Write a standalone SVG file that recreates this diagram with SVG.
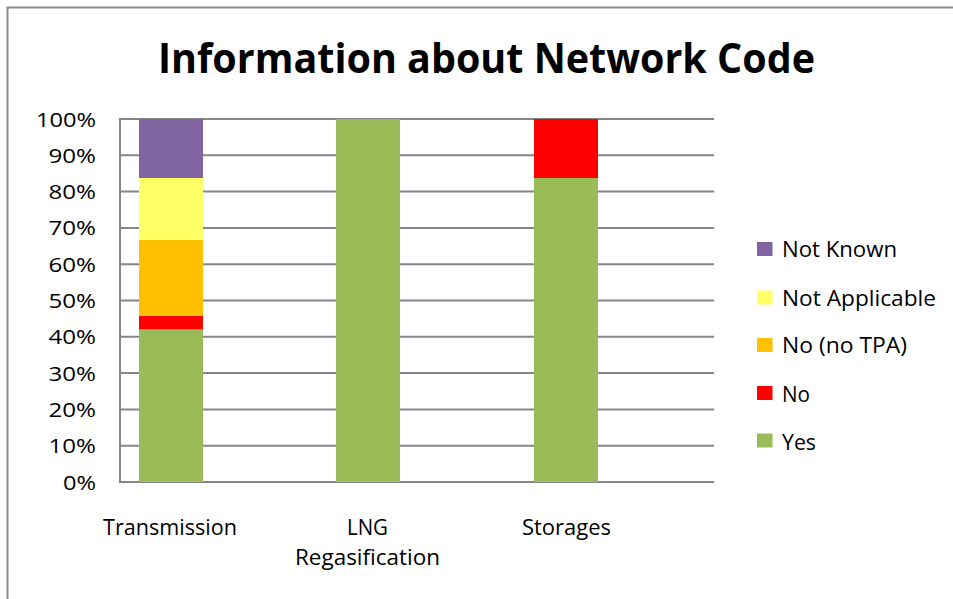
<svg xmlns="http://www.w3.org/2000/svg" width="953" height="599" viewBox="0 0 953 599">
<style>
text{font-family:"Open Sans","Liberation Sans",sans-serif;fill:#000}
.ax{font-size:20.5px;text-anchor:end}
.lg{font-size:21px}
.cat{font-size:21px}
.grid{stroke:#868686;stroke-width:2;fill:none}
.yes{fill:#9BBB59}.no{fill:#FF0000}.ntpa{fill:#FFC000}.na{fill:#FFFF66}.nk{fill:#8064A2}
</style>
<rect width="953" height="599" fill="#fff"/>
<path d="M7.5 599 V7.5 H953" stroke="#8c8c8c" stroke-width="2" fill="none"/>
<text x="158" y="73" font-size="42" font-weight="bold" textLength="657" lengthAdjust="spacingAndGlyphs">Information about Network Code</text>
<g id="grid">
<path class="grid" d="M120 119H714M120 155.3H714M120 191.6H714M120 227.9H714M120 264.2H714M120 300.5H714M120 336.8H714M120 373.1H714M120 409.4H714M120 445.7H714"/>
<path class="grid" d="M120 118V482H714"/>
</g>
<g id="yaxis">
<text class="ax" x="96" y="126.5" textLength="60" lengthAdjust="spacingAndGlyphs">100%</text>
<text class="ax" x="96" y="162.8" textLength="47.5" lengthAdjust="spacingAndGlyphs">90%</text>
<text class="ax" x="96" y="199.1" textLength="47.5" lengthAdjust="spacingAndGlyphs">80%</text>
<text class="ax" x="96" y="235.4" textLength="47.5" lengthAdjust="spacingAndGlyphs">70%</text>
<text class="ax" x="96" y="271.7" textLength="47.5" lengthAdjust="spacingAndGlyphs">60%</text>
<text class="ax" x="96" y="308" textLength="47.5" lengthAdjust="spacingAndGlyphs">50%</text>
<text class="ax" x="96" y="344.3" textLength="47.5" lengthAdjust="spacingAndGlyphs">40%</text>
<text class="ax" x="96" y="380.6" textLength="47.5" lengthAdjust="spacingAndGlyphs">30%</text>
<text class="ax" x="96" y="416.9" textLength="47.5" lengthAdjust="spacingAndGlyphs">20%</text>
<text class="ax" x="96" y="453.2" textLength="47.5" lengthAdjust="spacingAndGlyphs">10%</text>
<text class="ax" x="96" y="489.5" textLength="33" lengthAdjust="spacingAndGlyphs">0%</text>
</g>
<g id="bar-transmission">
<rect class="yes" x="139" y="329.5" width="64" height="152.5"/>
<rect class="no" x="139" y="315.7" width="64" height="13.8"/>
<rect class="ntpa" x="139" y="240" width="64" height="75.7"/>
<rect class="na" x="139" y="178" width="64" height="62"/>
<rect class="nk" x="139" y="119" width="64" height="59"/>
</g>
<g id="bar-lng">
<rect class="yes" x="336" y="119" width="64" height="363"/>
</g>
<g id="bar-storages">
<rect class="yes" x="534" y="178" width="64" height="304"/>
<rect class="no" x="534" y="119" width="64" height="59"/>
</g>
<g id="xaxis">
<text class="cat" x="103" y="535" textLength="134" lengthAdjust="spacingAndGlyphs">Transmission</text>
<text class="cat" x="347" y="535" textLength="41" lengthAdjust="spacingAndGlyphs">LNG</text>
<text class="cat" x="295" y="564.5" textLength="145" lengthAdjust="spacingAndGlyphs">Regasification</text>
<text class="cat" x="522" y="535" textLength="89" lengthAdjust="spacingAndGlyphs">Storages</text>
</g>
<g id="legend">
<g id="leg-nk"><rect class="nk" x="757" y="242" width="15.5" height="14"/><text class="lg" x="782" y="257" textLength="115" lengthAdjust="spacingAndGlyphs">Not Known</text></g>
<g id="leg-na"><rect class="na" x="757" y="290.5" width="15.5" height="14"/><text class="lg" x="782" y="305.5" textLength="154" lengthAdjust="spacingAndGlyphs">Not Applicable</text></g>
<g id="leg-ntpa"><rect class="ntpa" x="757" y="338" width="15.5" height="14"/><text class="lg" x="782" y="353" textLength="125" lengthAdjust="spacingAndGlyphs">No (no TPA)</text></g>
<g id="leg-no"><rect class="no" x="757" y="386" width="15.5" height="14"/><text class="lg" x="782" y="401.5" textLength="28" lengthAdjust="spacingAndGlyphs">No</text></g>
<g id="leg-yes"><rect class="yes" x="757" y="433.5" width="15.5" height="14"/><text class="lg" x="782" y="450" textLength="34" lengthAdjust="spacingAndGlyphs">Yes</text></g>
</g>
</svg>
